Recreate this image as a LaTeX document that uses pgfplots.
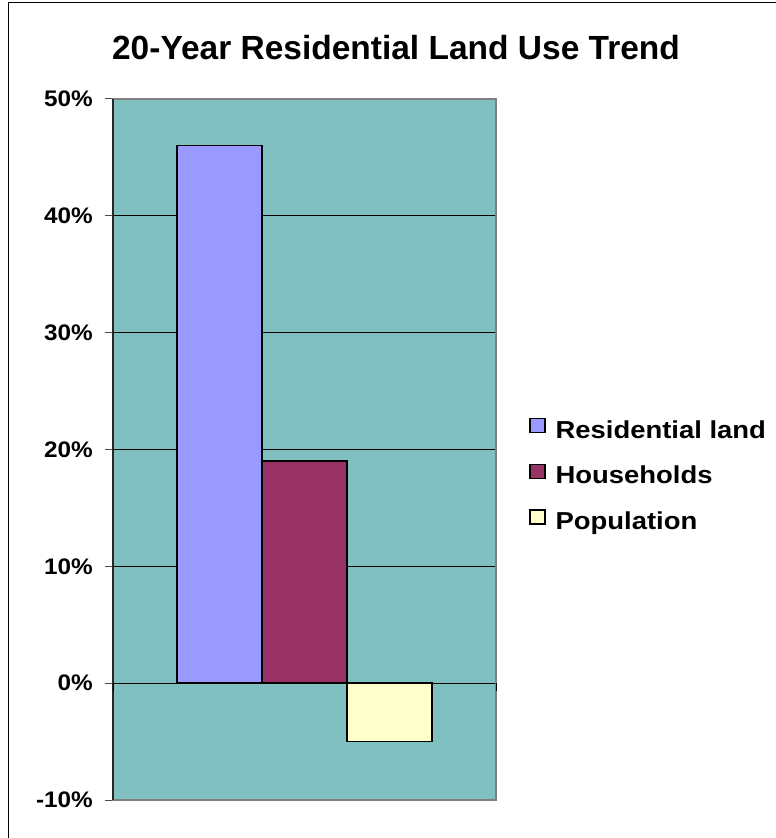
\documentclass[border=0pt]{standalone}
\usepackage{fontspec}
\setmainfont{Liberation Sans}
\newfontfamily\titlefont{Liberation Sans}
\newfontfamily\tickfont{Liberation Sans}[FakeStretch=1.08]
\newfontfamily\legfont{Liberation Sans}[FakeStretch=1.12]
\usepackage{pgfplots}
\pgfplotsset{compat=1.18}
\definecolor{bg}{RGB}{128,192,192}
\definecolor{resland}{RGB}{153,153,255}
\definecolor{house}{RGB}{153,51,102}
\definecolor{popul}{RGB}{255,255,204}
\definecolor{framegray}{RGB}{128,128,128}
\begin{document}
\begin{tikzpicture}
\useasboundingbox (0,0) rectangle (776pt,838pt);
\draw[line width=1.5pt] (8.3pt,-5pt) -- (8.3pt,835.7pt) -- (790pt,835.7pt);
\begin{axis}[
  at={(113pt,38pt)}, anchor=south west,
  scale only axis, width=383pt, height=701pt,
  xmin=-0.5, xmax=0.5, ymin=-10, ymax=50,
  enlargelimits=false,
  xtick=\empty,
  ytick={-10,0,10,20,30,40,50},
  ytick pos=left,
  yticklabels={-10\%,0\%,10\%,20\%,30\%,40\%,50\%},
  yticklabel style={anchor=east, inner sep=0pt, xshift=-12pt,
    font=\tickfont\bfseries\fontsize{22.5pt}{24pt}\selectfont},
  tick align=outside, major tick length=8pt,
  tick style={draw=black!70, line width=1pt},
  ymajorgrids, grid style={draw=black, line width=0.9pt},
  axis line style={draw=framegray, line width=1.8pt},
  axis background/.style={fill=bg},
  ybar=0pt, bar width=85pt,
  title={20-Year Residential Land Use Trend},
  title style={at={(axis description cs:0.739,1.0483)}, anchor=base, inner sep=0pt,
    font=\titlefont\bfseries\fontsize{33.5pt}{36pt}\selectfont},
  legend style={at={(axis description cs:1,0.4618)}, anchor=west, xshift=33pt,
    draw=none, fill=none, inner sep=0pt, row sep=20.5pt, column sep=0pt,
    nodes={inner sep=0pt, text height=18pt, text depth=5pt},
    font=\legfont\bfseries\fontsize{24.5pt}{28pt}\selectfont},
  legend cell align=left,
  legend image code/.code={\draw[#1, line width=1.4pt] (0pt,-1pt) rectangle (15pt,13pt); \path (25pt,0pt);},
  after end axis/.code={
    \draw[black!85, line width=1.2pt] (rel axis cs:0,0) -- (rel axis cs:0,1);
    \draw[black, line width=1pt] (axis cs:0.5,0) -- ++(0,-8pt);
    \draw[black, line width=1pt] (axis cs:-0.5,0) -- ++(0,-8pt);
  },
]
\addplot[fill=resland, draw=black, line width=1.4pt] coordinates {(0,46)};
\addplot[fill=house, draw=black, line width=1.4pt] coordinates {(0,19)};
\addplot[fill=popul, draw=black, line width=1.4pt] coordinates {(0,-5)};
\legend{Residential land, Households, Population}
\end{axis}
\end{tikzpicture}
\end{document}
